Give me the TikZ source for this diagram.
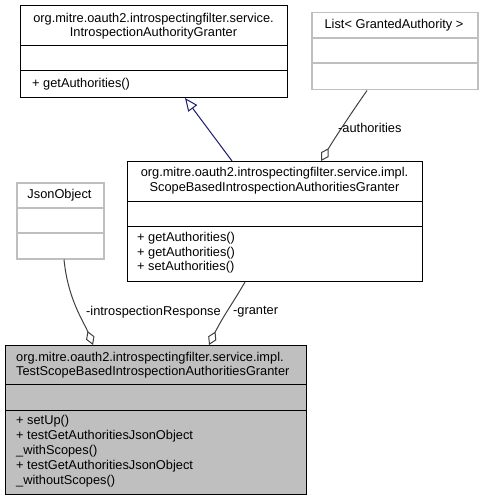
\documentclass[tikz,border=0pt]{standalone}
\usepackage{fontspec}
\setmainfont{Liberation Sans}
\usetikzlibrary{arrows.meta,calc}
\definecolor{edgegray}{HTML}{404040}
\definecolor{navyedge}{HTML}{191970}
\definecolor{lightborder}{HTML}{BFBFBF}
\definecolor{testfill}{HTML}{BFBFBF}
\begin{document}
\begin{tikzpicture}[x=1pt,y=-1pt,
  umlbox/.style={draw=black,line width=1pt,inner sep=0pt,anchor=north west},
  extbox/.style={draw=lightborder,line width=1.5pt,inner sep=0pt,anchor=north west},
  txt/.style={font=\fontsize{12.8}{14.5}\selectfont,inner sep=0pt},
  inherit/.style={draw=navyedge,line width=1pt,-{Triangle[open,length=13pt,width=11pt]}},
  aggr/.style={draw=edgegray,line width=1pt,-{Diamond[fill=white,length=15pt,width=9pt]}},
  lbl/.style={txt,anchor=west}]
\useasboundingbox (0,0) rectangle (482,500);
% Box A
\node[umlbox,minimum width=267pt,minimum height=92pt] (A) at (20,5) {};
\draw[line width=1pt] (20,46) -- (287,46) (20,71) -- (287,71);
\node[txt,align=center] (At) at (153.5,26) {org.mitre.oauth2.introspectingfilter.service.\\IntrospectionAuthorityGranter};
\node[txt,anchor=west] (Am) at (32,84) {+ getAuthorities()};
% Box B
\node[extbox,minimum width=166pt,minimum height=77pt] (B) at (311,12) {};
\draw[draw=lightborder,line width=1.5pt] (311,38) -- (477,38) (311,63) -- (477,63);
\node[txt] (Bt) at (394,25) {List< GrantedAuthority >};
% Box C
\node[umlbox,minimum width=295pt,minimum height=120pt] (C) at (127,161) {};
\draw[line width=1pt] (127,201) -- (422,201) (127,226) -- (422,226);
\node[txt,align=center] (Ct) at (274.5,180.5) {org.mitre.oauth2.introspectingfilter.service.impl.\\ScopeBasedIntrospectionAuthoritiesGranter};
\node[txt,anchor=west,align=left] (Cm) at (137,253) {+ getAuthorities()\\+ getAuthorities()\\+ setAuthorities()};
% Box D
\node[extbox,minimum width=87pt,minimum height=76pt] (D) at (16,182) {};
\draw[draw=lightborder,line width=1.5pt] (16,208) -- (103,208) (16,233) -- (103,233);
\node[txt] (Dt) at (59.5,195) {JsonObject};
% Box E
\node[umlbox,fill=testfill,minimum width=301pt,minimum height=149pt] (E) at (5,345) {};
\draw[line width=1pt] (5,384) -- (306,384) (5,410) -- (306,410);
\node[txt,anchor=west,align=left] (Et) at (16,365) {org.mitre.oauth2.introspectingfilter.service.impl.\\TestScopeBasedIntrospectionAuthoritiesGranter};
\node[txt,anchor=west,align=left,font=\fontsize{12.8}{15}\selectfont] (Em) at (16,451.5) {+ setUp()\\+ testGetAuthoritiesJsonObject\\\_withScopes()\\+ testGetAuthoritiesJsonObject\\\_withoutScopes()};
% Edges
\draw[inherit] ([xshift=105pt]C.north west) -- ([xshift=165pt]A.south west);
\draw[aggr] ([xshift=56pt]B.south west) .. controls (352,112) and (336,136) .. ([xshift=194pt]C.north west);
\draw[aggr] ([xshift=48pt]D.south west) .. controls (68,300) and (84,322) .. ([xshift=88pt]E.north west);
\draw[aggr] ([xshift=118pt]C.south west) .. controls (236,298) and (222,318) .. ([xshift=204pt]E.north west);
% Labels
\node[lbl] (L1) at (338,128) {-authorities};
\node[lbl] (L2) at (86,312) {-introspectionResponse};
\node[lbl] (L3) at (233,312) {-granter};
\end{tikzpicture}
\end{document}
